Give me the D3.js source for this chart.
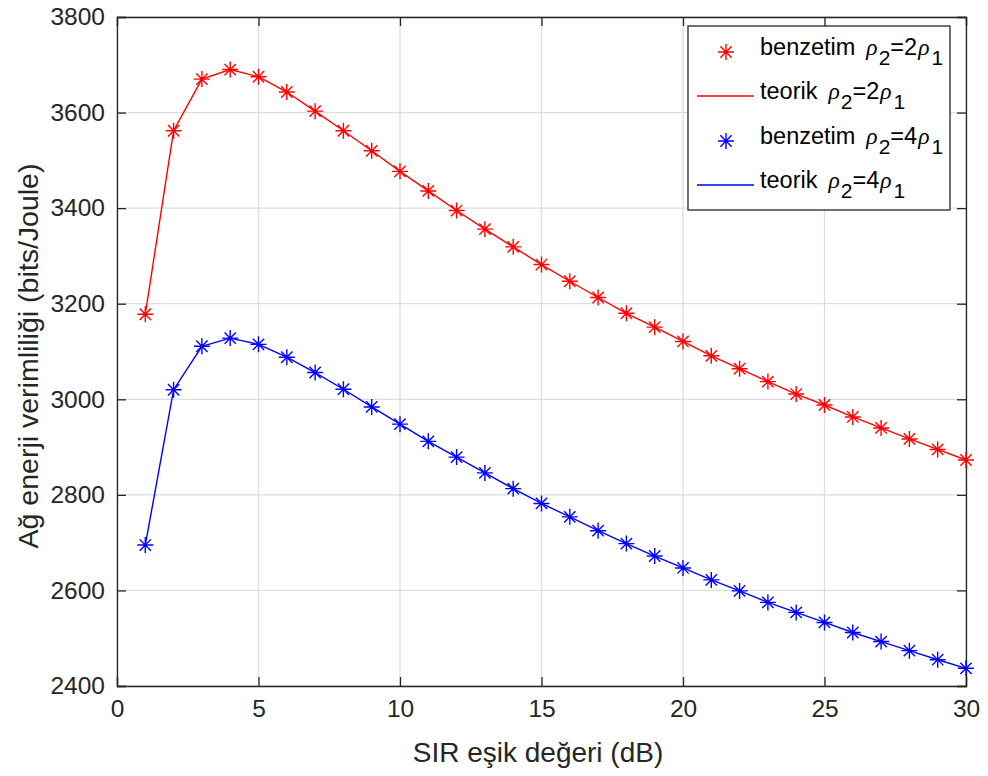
<!DOCTYPE html>
<html>
<head>
<meta charset="utf-8">
<script src="https://cdn.jsdelivr.net/npm/d3@7"></script>
<style>
  html, body { margin: 0; padding: 0; background: #fff; }
  svg text { font-family: "Liberation Sans", Arial, Helvetica, sans-serif; }
</style>
</head>
<body>
<svg id="chart" width="988" height="776"></svg>
<script>
// ---- data ----
const sirDb = [1,2,3,4,5,6,7,8,9,10,11,12,13,14,15,16,17,18,19,20,21,22,23,24,25,26,27,28,29,30];
const rho2x = [3178,3562,3670,3690,3675,3643,3603,3562,3520,3477,3436,3395,3356,3319,3282,3247,3213,3180,3151,3121,3091,3064,3037,3011,2988,2963,2940,2917,2895,2873];
const rho4x = [2695,3020,3111,3128,3115,3088,3056,3021,2984,2948,2912,2879,2846,2813,2782,2754,2725,2698,2672,2647,2622,2599,2575,2554,2533,2512,2493,2474,2455,2437];
const xTicks = [0,5,10,15,20,25,30];
const yTicks = [2400,2600,2800,3000,3200,3400,3600,3800];
const xLabel = "SIR eşik değeri (dB)";
const yLabel = "Ağ enerji verimliliği (bits/Joule)";

const series = [
  {name: "2", values: rho2x, color: "#ff0000"},
  {name: "4", values: rho4x, color: "#0000ff"}
];

// ---- layout ----
const L = 117, R = 966, T = 17, B = 686;
const svg = d3.select("#chart");
const x = d3.scaleLinear().domain([0, 30]).range([L, R]);
const y = d3.scaleLinear().domain([2400, 3800]).range([B, T]);
const axisColor = "#262626";
const gridColor = "#dedede";
const tickLen = 9;

// grid
const g = svg.append("g");
g.selectAll("line.gx").data(xTicks).enter().append("line")
  .attr("x1", d => x(d)).attr("x2", d => x(d)).attr("y1", T).attr("y2", B)
  .attr("stroke", gridColor).attr("stroke-width", 1.3);
g.selectAll("line.gy").data(yTicks).enter().append("line")
  .attr("y1", d => y(d)).attr("y2", d => y(d)).attr("x1", L).attr("x2", R)
  .attr("stroke", gridColor).attr("stroke-width", 1.3);

// axes via d3
const fontTick = 24.5;
const xAxis = svg.append("g").attr("transform", `translate(0,${B})`)
  .call(d3.axisBottom(x).tickValues(xTicks).tickSize(-tickLen).tickPadding(14).tickFormat(d3.format("d")));
const xAxisTop = svg.append("g").attr("transform", `translate(0,${T})`)
  .call(d3.axisTop(x).tickValues(xTicks).tickSize(-tickLen).tickFormat(""));
const yAxis = svg.append("g").attr("transform", `translate(${L},0)`)
  .call(d3.axisLeft(y).tickValues(yTicks).tickSize(-tickLen).tickPadding(12).tickFormat(d3.format("d")));
const yAxisR = svg.append("g").attr("transform", `translate(${R},0)`)
  .call(d3.axisRight(y).tickValues(yTicks).tickSize(-tickLen).tickFormat(""));
[xAxis, xAxisTop, yAxis, yAxisR].forEach(a => {
  a.select(".domain").attr("stroke", axisColor).attr("stroke-width", 1.3);
  a.selectAll(".tick line").attr("stroke", axisColor).attr("stroke-width", 1.3);
  a.selectAll(".tick text").attr("fill", axisColor).attr("font-size", fontTick)
    .attr("font-family", "Liberation Sans, Arial, sans-serif");
});
xAxis.selectAll(".tick text").attr("dy", "0.71em");

// axis labels
svg.append("text").attr("x", 538).attr("y", 762)
  .attr("text-anchor", "middle").attr("font-size", 28).attr("fill", axisColor).text(xLabel);
svg.append("text").attr("transform", `translate(38,356) rotate(-90)`)
  .attr("text-anchor", "middle").attr("font-size", 28.5).attr("fill", axisColor).text(yLabel);

// star marker path
function starPath(cx, cy, r) {
  const d = r * Math.SQRT1_2;
  return `M${cx - r},${cy}L${cx + r},${cy}M${cx},${cy - r}L${cx},${cy + r}` +
         `M${cx - d},${cy - d}L${cx + d},${cy + d}M${cx - d},${cy + d}L${cx + d},${cy - d}`;
}

const line = d3.line().x((d, i) => x(sirDb[i])).y(d => y(d));
const plot = svg.append("g");
series.forEach(s => {
  plot.append("path").datum(s.values).attr("d", line)
    .attr("fill", "none").attr("stroke", s.color).attr("stroke-width", 1.4);
  plot.selectAll(null).data(s.values).enter().append("path")
    .attr("d", (d, i) => starPath(x(sirDb[i]), y(d), 8))
    .attr("fill", "none").attr("stroke", s.color).attr("stroke-width", 1.4);
});

// legend
const lg = svg.append("g");
lg.append("rect").attr("x", 688).attr("y", 26).attr("width", 262).attr("height", 184)
  .attr("fill", "#fff").attr("stroke", axisColor).attr("stroke-width", 1.3);
const rows = [
  {label: "benzetim", k: "2", color: "#ff0000", type: "marker", yy: 52},
  {label: "teorik", k: "2", color: "#ff0000", type: "line", yy: 96},
  {label: "benzetim", k: "4", color: "#0000ff", type: "marker", yy: 141},
  {label: "teorik", k: "4", color: "#0000ff", type: "line", yy: 185}
];
rows.forEach(r => {
  if (r.type === "marker") {
    lg.append("path").attr("d", starPath(726, r.yy, 8))
      .attr("fill", "none").attr("stroke", r.color).attr("stroke-width", 1.4);
  } else {
    lg.append("line").attr("x1", 697).attr("x2", 754).attr("y1", r.yy).attr("y2", r.yy)
      .attr("stroke", r.color).attr("stroke-width", 1.4);
  }
  const t = lg.append("text").attr("x", 760).attr("y", r.yy + 3)
    .attr("font-size", 23.5).attr("fill", "#000");
  t.append("tspan").text(r.label);
  t.append("tspan").attr("dx", 11).attr("font-style", "italic").attr("font-family", "Liberation Serif, serif").text("ρ");
  t.append("tspan").attr("dy", 10).attr("dx", 1).attr("font-size", 21).text("2");
  t.append("tspan").attr("dy", -10).text("=" + r.k);
  t.append("tspan").attr("dx", 1).attr("font-style", "italic").attr("font-family", "Liberation Serif, serif").text("ρ");
  t.append("tspan").attr("dy", 10).attr("dx", 2).attr("font-size", 21).text("1");
});
</script>
</body>
</html>
